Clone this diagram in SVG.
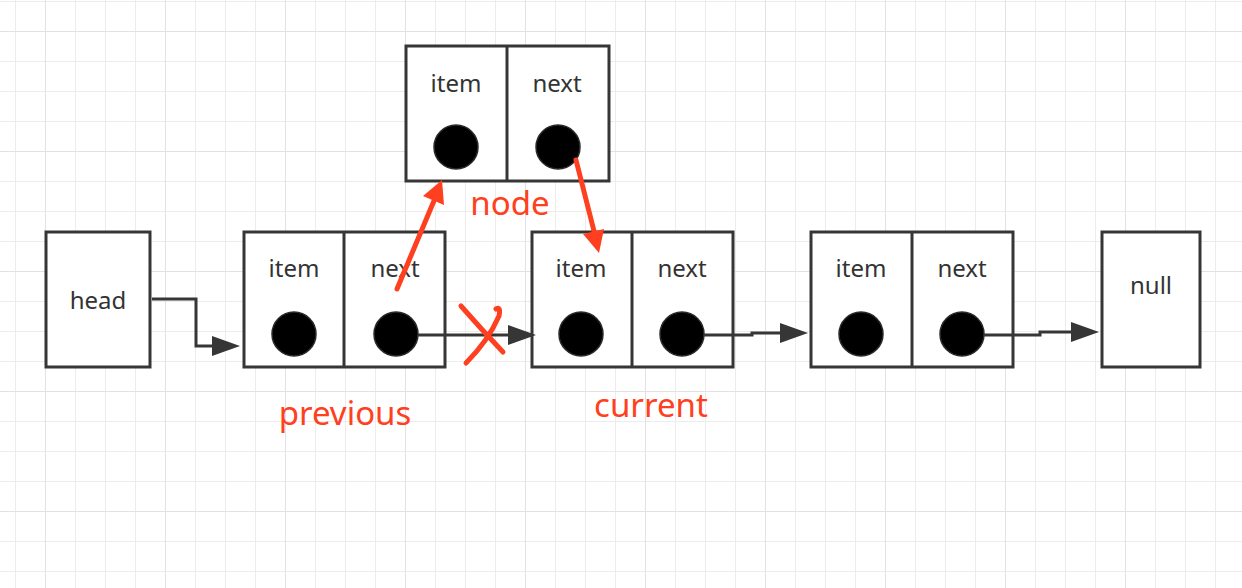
<svg xmlns="http://www.w3.org/2000/svg" width="1242" height="588" viewBox="0 0 1242 588">
<style>
.box{fill:#fff;stroke:#363636;stroke-width:3}
.div{stroke:#363636;stroke-width:3}
.dot{fill:#000;stroke:#2a2a2a;stroke-width:1.5}
.lbl{font-family:"Noto Sans","Liberation Sans",sans-serif;font-size:24px;fill:#333;text-anchor:middle}
.red{font-family:"Noto Sans","Liberation Sans",sans-serif;font-size:33px;fill:#ff4020;text-anchor:middle}
.conn{fill:none;stroke:#363636;stroke-width:3}
.rline{fill:none;stroke:#ff4020;stroke-width:5;stroke-linecap:round}
.rhead{fill:#ff4020}
</style>
<defs>
<pattern id="minor" width="30" height="30" x="15" y="1" patternUnits="userSpaceOnUse">
<path d="M0,0 V30 M0,0 H30" stroke="#ececec" stroke-width="2" fill="none"/>
</pattern>
<pattern id="major" width="120" height="120" x="45" y="31" patternUnits="userSpaceOnUse">
<path d="M0,0 V120 M0,0 H120" stroke="#e2e2e2" stroke-width="2" fill="none"/>
</pattern>
<marker id="ah" markerUnits="userSpaceOnUse" markerWidth="30" markerHeight="22" refX="0" refY="10" orient="auto">
<path d="M0,0 L28,10 L0,20 z" fill="#363636"/>
</marker>
</defs>
<rect width="1242" height="588" fill="#fff"/>
<rect width="1242" height="588" fill="url(#minor)"/>
<rect width="1242" height="588" fill="url(#major)"/>

<g id="head">
<rect class="box" x="46" y="232" width="104" height="135"/>
<text class="lbl" x="98" y="309">head</text>
</g>

<g id="previous-node">
<rect class="box" x="244" y="232" width="201" height="135"/>
<line class="div" x1="344" y1="232" x2="344" y2="367"/>
<text class="lbl" x="294" y="277">item</text>
<text class="lbl" x="395" y="277">next</text>
<circle class="dot" cx="294" cy="334" r="22"/>
<circle class="dot" cx="396" cy="334" r="22"/>
</g>

<g id="new-node">
<rect class="box" x="406" y="46" width="203" height="135"/>
<line class="div" x1="507" y1="46" x2="507" y2="181"/>
<text class="lbl" x="456" y="92">item</text>
<text class="lbl" x="557" y="92">next</text>
<circle class="dot" cx="456" cy="147" r="22"/>
<circle class="dot" cx="558" cy="147" r="22"/>
</g>

<g id="current-node">
<rect class="box" x="532" y="232" width="201" height="135"/>
<line class="div" x1="632" y1="232" x2="632" y2="367"/>
<text class="lbl" x="581" y="277">item</text>
<text class="lbl" x="682" y="277">next</text>
<circle class="dot" cx="581" cy="334" r="22"/>
<circle class="dot" cx="682" cy="334" r="22"/>
</g>

<g id="third-node">
<rect class="box" x="811" y="232" width="202" height="135"/>
<line class="div" x1="912" y1="232" x2="912" y2="367"/>
<text class="lbl" x="861" y="277">item</text>
<text class="lbl" x="962" y="277">next</text>
<circle class="dot" cx="861" cy="334" r="22"/>
<circle class="dot" cx="962" cy="334" r="22"/>
</g>

<g id="null">
<rect class="box" x="1102" y="232" width="98" height="135"/>
<text class="lbl" x="1151" y="294">null</text>
</g>

<g id="connectors">
<path class="conn" d="M152,299 H196 V346 H212" marker-end="url(#ah)"/>
<path class="conn" d="M418,335 H508" marker-end="url(#ah)"/>
<path class="conn" d="M704,335 H752 V333 H780" marker-end="url(#ah)"/>
<path class="conn" d="M984,335 H1040 V332 H1071" marker-end="url(#ah)"/>
</g>

<g id="annotations">
<line class="rline" x1="397" y1="289" x2="436" y2="196"/>
<polygon class="rhead" points="442,180 423,196 444,205"/>
<line class="rline" x1="576" y1="160" x2="595" y2="235"/>
<polygon class="rhead" points="599,253 583,234 604,229"/>
<path class="rline" stroke-width="4" d="M461,306 Q482,330 503,352"/>
<path class="rline" stroke-width="4" d="M496,309 Q501,306 499,316 Q488,341 466,363"/>
<text class="red" x="510" y="215">node</text>
<text class="red" x="345" y="425">previous</text>
<text class="red" x="651" y="417">current</text>
</g>
</svg>
